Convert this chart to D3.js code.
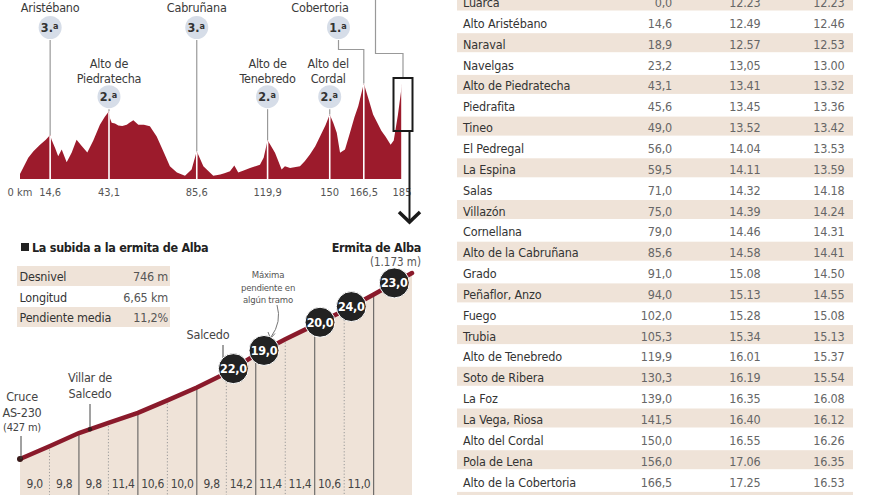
<!DOCTYPE html>
<html><head><meta charset="utf-8">
<script src="https://cdn.jsdelivr.net/npm/d3@7"></script>
<style>html,body{margin:0;padding:0;background:#fff;}svg{display:block;}</style>
</head><body>
<svg id="c" width="880" height="495"></svg>
<script>
// ---------- DATA ----------
// Stage profile (km, elevation m)
const profileKm   = [0,4,6.5,9.7,12.5,14.6,15.3,17,18.5,20.2,22.6,25,27.4,30,32.6,35.5,38.7,41,43.1,43.6,44.4,46,47.6,49.5,51.7,53,54.9,57.3,60,62.9,66.2,69.4,72.6,76,79.9,83.1,85.6,88.8,93.6,97,99,101.7,103.8,105.7,108,111.4,116.2,118,119.9,121,123.5,126.7,128.3,130.8,135.6,138,140.4,143,145.3,148,150,151.7,153.4,155,157.4,159.8,162,163.8,166.5,169,171,175,177,179.5,181,183,185];
const profileElev = [60,260,340,420,480,540,480,380,280,360,205,320,480,400,325,470,665,760,830,740,690,680,655,650,665,690,720,665,665,645,520,340,155,80,40,115,340,155,40,55,70,95,165,80,100,135,175,260,475,430,320,115,155,135,155,220,300,400,520,660,790,690,565,320,360,565,760,890,1170,960,790,590,520,420,470,780,1160];
const tickKm      = [0,14.6,43.1,85.6,119.9,150,166.5,185];
const tickLabels  = ["0 km","14,6","43,1","85,6","119,9","150","166,5","185"];
// Climbs on stage
const climbNames  = [["Aristébano"],["Alto de","Piedratecha"],["Cabruñana"],["Alto de","Tenebredo"],["Alto del","Cordal"],["Cobertoria"]];
const climbKm     = [14.6,43.1,85.6,119.9,150,166.5];
const climbCat    = ["3.","2.","3.","2.","2.","1."];

// Final climb: la subida a la ermita de Alba
const climbDist   = [0,0.5,1,1.5,2,2.5,3,3.5,4,4.5,5,5.5,6,6.65];
const climbElev   = [427,478,531,572,612,662,714,772,845,907,965,1023,1087,1173];
const segGrades   = ["9,0","9,8","9,8","11,4","10,6","10,0","9,8","14,2","11,4","11,4","10,6","11,0",""];
const maxKm       = [3.62,4.14,5.09,5.62,6.35];
const maxGrades   = ["22,0","19,0","20,0","24,0","23,0"];
const infoLabels  = ["Desnivel","Longitud","Pendiente media"];
const infoValues  = ["746 m","6,65 km","11,2%"];

// Timetable
const places = ["Luarca","Alto Aristébano","Naraval","Navelgas","Alto de Piedratecha","Piedrafita","Tineo","El Pedregal","La Espina","Salas","Villazón","Cornellana","Alto de la Cabruñana","Grado","Peñaflor, Anzo","Fuego","Trubia","Alto de Tenebredo","Soto de Ribera","La Foz","La Vega, Riosa","Alto del Cordal","Pola de Lena","Alto de la Cobertoria",""];
const placeKm = ["0,0","14,6","18,9","23,2","43,1","45,6","49,0","56,0","59,5","71,0","75,0","79,0","85,6","91,0","94,0","102,0","105,3","119,9","130,3","139,0","141,5","150,0","156,0","166,5",""];
const timeA   = ["12.23","12.49","12.57","13,05","13.41","13.45","13.52","14.04","14.11","14.32","14.39","14.46","14.58","15.08","15.13","15.28","15.34","16.01","16.19","16.35","16.40","16.55","17.06","17.25",""];
const timeB   = ["12.23","12.46","12.53","13.00","13.32","13.36","13.42","13.53","13.59","14.18","14.24","14.31","14.41","14.50","14.55","15.08","15.13","15.37","15.54","16.08","16.12","16.26","16.35","16.53",""];

// ---------- STYLE ----------
const FONT = "'DejaVu Sans Condensed','Roboto Condensed','Liberation Sans Narrow','Arial Narrow',sans-serif";
const RED = "#9c1b2c", BEIGE = "#efe3d8", BADGE = "#d6dde8";

const svg = d3.select("#c").style("font-family", FONT);
svg.append("rect").attr("width",880).attr("height",495).attr("fill","#fff");

// ---------- TOP PROFILE ----------
const x1 = d3.scaleLinear().domain([0,185]).range([20,402]);
const y1 = d3.scaleLinear().domain([0,1200]).range([179,81]);
const prof = d3.zip(profileKm, profileElev);
const elevAt = k => { const i = d3.bisector(d=>d[0]).left(prof,k); if(i<=0) return prof[0][1]; if(i>=prof.length) return prof[prof.length-1][1]; const a=prof[i-1], b=prof[i]; return a[1]+(b[1]-a[1])*(k-a[0])/(b[0]-a[0]); };
const topG = svg.append("g");
topG.append("path").datum(prof)
  .attr("d", d3.area().x(d=>x1(d[0])).y0(y1(0)).y1(d=>y1(d[1])))
  .attr("fill", RED);

topG.selectAll("line.w").data(tickKm.slice(1)).join("line")
  .attr("x1",d=>x1(d)).attr("x2",d=>x1(d)).attr("y1",y1(0)).attr("y2",d=>y1(elevAt(d))+1)
  .attr("stroke","#fff").attr("stroke-width",1.6);

topG.selectAll("text.t").data(tickKm).join("text")
  .attr("x",d=>x1(d)).attr("y",196).attr("text-anchor","middle")
  .attr("font-size",11).attr("fill","#555").text((d,i)=>tickLabels[i]);

const labelRow = [0,1,0,1,1,0];
const labelX = [x1(14.6),x1(43.1),x1(85.6),x1(119.9),x1(150)-1.5,320];
const badgeX = [x1(14.6),x1(43.1),x1(85.6),x1(119.9),x1(150),338.5];
climbKm.forEach((k,i)=>{
  const r = labelRow[i];
  const by = r ? 96.7 : 27.5;
  const names = climbNames[i];
  names.forEach((n,j)=>{
    topG.append("text").attr("x",labelX[i]).attr("text-anchor","middle")
      .attr("y", r ? 68 + j*14.5 : 11.5)
      .attr("font-size",12.5).attr("letter-spacing",-0.2).attr("fill","#3a3a3a").text(n);
  });
  topG.append("circle").attr("cx",badgeX[i]).attr("cy",by).attr("r",11.5).attr("fill",BADGE);
  const t = topG.append("text").attr("x",badgeX[i]-0.5).attr("y",by+4.5).attr("text-anchor","middle")
    .attr("font-size",12.5).attr("font-weight","bold").attr("fill","#333");
  t.append("tspan").text(climbCat[i]);
  t.append("tspan").attr("font-size",9).attr("dy",-3).text("a");
  const peakY = y1(elevAt(k));
  if (i === 5) {
    topG.append("path").attr("d",`M${badgeX[i]},${by+12.5}V49.5H${x1(k)}V${peakY}`)
      .attr("fill","none").attr("stroke","#999").attr("stroke-width",1.2);
  } else {
    topG.append("line").attr("x1",x1(k)).attr("x2",x1(k)).attr("y1",by+12.5).attr("y2",peakY)
      .attr("stroke","#999").attr("stroke-width",1.2);
  }
});
topG.append("path").attr("d",`M375.5,0V53.5H${x1(185)+1}V78`).attr("fill","none").attr("stroke","#999").attr("stroke-width",1.2);
topG.append("rect").attr("x",393.5).attr("y",78).attr("width",19).attr("height",53)
  .attr("fill","none").attr("stroke","#1a1a1a").attr("stroke-width",2);
topG.append("line").attr("x1",409.5).attr("x2",409.5).attr("y1",131).attr("y2",221).attr("stroke","#1a1a1a").attr("stroke-width",2);
topG.append("path").attr("d","M399,212L409.5,222L420,212").attr("fill","none").attr("stroke","#1a1a1a").attr("stroke-width",3.5);

// ---------- FINAL CLIMB ----------
const x2 = d3.scaleLinear().domain([0,6.65]).range([20,412]);
const y2 = d3.scaleLinear().domain([427,1173]).range([459,273]);
const cl = d3.zip(climbDist, climbElev);
const climbAt = k => { const i = d3.bisector(d=>d[0]).left(cl,k); if(i<=0) return cl[0][1]; const a=cl[i-1], b=cl[i]; return a[1]+(b[1]-a[1])*(k-a[0])/(b[0]-a[0]); };
const bot = svg.append("g");
bot.append("path").datum(cl)
  .attr("d", d3.area().x(d=>x2(d[0])).y0(495).y1(d=>y2(d[1])))
  .attr("fill", BEIGE);
bot.selectAll("line.sep").data(climbDist.slice(1,-1)).join("line")
  .attr("x1",d=>x2(d)).attr("x2",d=>x2(d)).attr("y1",d=>y2(climbAt(d))).attr("y2",495)
  .attr("stroke",d=>Number.isInteger(d)?"#555":"#999")
  .attr("stroke-width",1)
  .attr("stroke-dasharray",d=>Number.isInteger(d)?null:"1.2,2");
bot.selectAll("text.g").data(segGrades).join("text")
  .attr("x",(d,i)=>(x2(climbDist[i])+x2(climbDist[i+1]))/2).attr("y",487.5)
  .attr("text-anchor","middle").attr("font-size",12).attr("letter-spacing",-0.3).attr("fill","#444").text(d=>d);
bot.append("path").datum(cl)
  .attr("d", d3.line().x(d=>x2(d[0])).y(d=>y2(d[1])))
  .attr("fill","none").attr("stroke","#8a1a2b").attr("stroke-width",4.5).attr("stroke-linecap","round");
bot.append("circle").attr("cx",x2(0)).attr("cy",y2(427)).attr("r",3).attr("fill","#3a1a1a");

const ann = (lines, x, y0, size, color, lh) => lines.forEach((t,i)=>
  bot.append("text").attr("x",x).attr("y",y0+i*lh).attr("text-anchor","middle").attr("font-size",size).attr("letter-spacing",-0.2).attr("fill",color).text(t));
ann(["Cruce","AS-230"],22,401,12.5,"#444",15.5);
ann(["(427 m)"],22,431,11,"#444",0);
bot.append("line").attr("x1",21).attr("x2",21).attr("y1",436).attr("y2",y2(427)).attr("stroke","#444");
ann(["Villar de","Salcedo"],90,382,12.5,"#444",15.5);
bot.append("line").attr("x1",90).attr("x2",90).attr("y1",404).attr("y2",y2(climbAt(1.19))).attr("stroke","#444");
bot.append("circle").attr("cx",90).attr("cy",y2(climbAt(1.19))).attr("r",2.2).attr("fill","#3a1a1a");
ann(["Salcedo"],208,339,12.5,"#444",0);
bot.append("line").attr("x1",223).attr("x2",223).attr("y1",345).attr("y2",360).attr("stroke","#444");
ann(["Máxima","pendiente en","algún tramo"],268,278,9.5,"#555",12.5);
bot.append("path").attr("d","M277,305 Q282,322 271,337").attr("fill","none").attr("stroke","#777").attr("stroke-width",1);
bot.append("path").attr("d","M268,332 L270.5,338.5 L275,333.5").attr("fill","none").attr("stroke","#777").attr("stroke-width",1);

maxKm.forEach((k,i)=>{
  const cx = x2(k), cy = y2(climbAt(k));
  bot.append("circle").attr("cx",cx).attr("cy",cy).attr("r",15).attr("fill","#222").attr("stroke","#fff").attr("stroke-width",1);
  bot.append("text").attr("x",cx).attr("y",cy+4.5).attr("text-anchor","middle")
    .attr("font-size",12.5).attr("letter-spacing",-0.3).attr("font-weight","bold").attr("fill","#fff").text(maxGrades[i]);
});

bot.append("rect").attr("x",21).attr("y",243).attr("width",8).attr("height",8).attr("fill","#222");
bot.append("text").attr("x",32).attr("y",251.5).attr("font-size",12.5).attr("letter-spacing",-0.3).attr("font-weight","bold").attr("fill","#222").text("La subida a la ermita de Alba");
bot.append("text").attr("x",421).attr("y",251.5).attr("text-anchor","end").attr("font-size",12.5).attr("letter-spacing",-0.3).attr("font-weight","bold").attr("fill","#222").text("Ermita de Alba");
bot.append("text").attr("x",421).attr("y",266).attr("text-anchor","end").attr("font-size",11.5).attr("fill","#555").text("(1.173 m)");

infoLabels.forEach((l,i)=>{
  if (i%2===0) bot.append("rect").attr("x",17).attr("y",266+i*20.5).attr("width",153).attr("height",20).attr("fill",BEIGE);
  bot.append("text").attr("x",19.5).attr("y",281+i*20.5).attr("font-size",12.5).attr("letter-spacing",-0.2).attr("fill","#333").text(l);
  bot.append("text").attr("x",168).attr("y",281+i*20.5).attr("text-anchor","end").attr("font-size",12.5).attr("letter-spacing",-0.2).attr("fill","#555").text(infoValues[i]);
});

// ---------- TABLE ----------
const tb = svg.append("g");
const rowH = 20.85;
places.forEach((p,i)=>{
  const r0 = i*rowH - 8.5;
  if (i%2===0) tb.append("rect").attr("x",457).attr("y",r0).attr("width",396).attr("height",19).attr("fill",BEIGE);
  const by = r0 + 15.5;
  tb.append("text").attr("x",463).attr("y",by).attr("font-size",12.5).attr("letter-spacing",-0.15).attr("fill","#333").text(p);
  tb.append("text").attr("x",672).attr("y",by).attr("text-anchor","end").attr("font-size",12.5).attr("letter-spacing",-0.2).attr("fill","#666").text(placeKm[i]);
  tb.append("text").attr("x",760.5).attr("y",by).attr("text-anchor","end").attr("font-size",12.5).attr("letter-spacing",-0.2).attr("fill","#666").text(timeA[i]);
  tb.append("text").attr("x",844.5).attr("y",by).attr("text-anchor","end").attr("font-size",12.5).attr("letter-spacing",-0.2).attr("fill","#666").text(timeB[i]);
});
</script>
</body></html>
